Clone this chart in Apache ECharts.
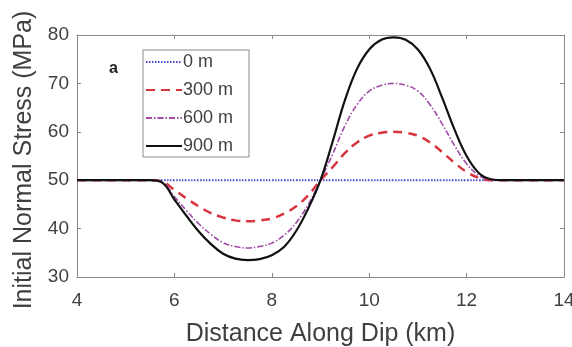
<!DOCTYPE html>
<html>
<head>
<meta charset="utf-8">
<script src="https://cdn.jsdelivr.net/npm/echarts@6/dist/echarts.min.js"></script>
<style>
  html, body { margin: 0; padding: 0; background: #fff; }
  #chart { width: 572px; height: 347px; }
</style>
</head>
<body>
<div id="chart"></div>
<script>
// distance along dip (km) and stress for each depth (MPa)
const distanceKm = [4, 5.5, 5.75, 6, 6.25, 6.5, 6.75, 7, 7.25, 7.5, 7.75, 8, 8.25, 8.5, 8.75, 9,
  9.25, 9.5, 9.75, 10, 10.25, 10.5, 10.75, 11, 11.25, 11.5, 11.75, 12, 12.25, 12.5, 12.75, 14];
const stress0 = [50, 50, 50, 50, 50, 50, 50, 50, 50, 50, 50, 50, 50, 50, 50, 50,
  50, 50, 50, 50, 50, 50, 50, 50, 50, 50, 50, 50, 50, 50, 50, 50];
const stress300 = [50, 50, 49.7, 48.0, 46.2, 44.6, 43.2, 42.3, 41.7, 41.5, 41.7, 42.1, 43.1, 44.6, 46.9, 50,
  52.7, 55.6, 57.8, 59.2, 59.8, 60, 59.8, 59.2, 57.8, 55.8, 53.6, 51.7, 50.5, 50, 50, 50];
const stress600 = [50, 50, 49.6, 46.6, 43.7, 41.0, 38.8, 37.1, 36.3, 36.0, 36.3, 37.0, 38.6, 41.2, 45.0, 50,
  55.4, 61.2, 65.6, 68.4, 69.6, 70, 69.6, 68.4, 65.6, 61.6, 57.2, 53.4, 51.0, 50.1, 50, 50];
const stress900 = [50, 50, 49.5, 46.0, 42.6, 39.4, 36.8, 34.8, 33.8, 33.5, 33.7, 34.5, 36.2, 39.5, 44.2, 50,
  58.0, 66.5, 73.0, 77.0, 79.0, 79.5, 79.0, 77.0, 73.0, 67.0, 60.5, 55.0, 51.5, 50.2, 50, 50];
const depthLabels = ['0 m', '300 m', '600 m', '900 m'];

const pairs = ys => distanceKm.map((x, i) => [x, ys[i]]);

const textColor = '#3f3f3f';
const frameColor = '#8a8a8a';
const font = 'Liberation Sans, Arial, sans-serif';

const chart = echarts.init(document.getElementById('chart'));

const styles = [
  { color: '#4646cc', width: 2, type: [1.5, 1.5] },
  { color: '#d8343f', width: 2.5, type: [9, 6] },
  { color: '#a04aa8', width: 1.6, type: [6, 2, 1.5, 2] },
  { color: '#111111', width: 2.2, type: 'solid' }
];
const values = [stress0, stress300, stress600, stress900];

const hiddenAxis = {
  axisLine: { show: true, lineStyle: { color: frameColor, width: 1 } },
  axisTick: { show: true, inside: true, length: 4, lineStyle: { color: frameColor } },
  axisLabel: { show: false },
  splitLine: { show: false }
};

chart.setOption({
  animation: false,
  backgroundColor: '#fff',
  grid: { left: 77, right: 8, top: 35, bottom: 70, outerBoundsMode: 'none' },
  legend: {
    orient: 'vertical',
    left: 143,
    top: 50,
    data: depthLabels,
    itemWidth: 36,
    itemHeight: 12,
    itemGap: 10,
    padding: [3, 16, 2, 2],
    borderColor: frameColor,
    borderWidth: 1,
    backgroundColor: '#fff',
    itemStyle: { opacity: 0 },
    textStyle: { color: textColor, fontSize: 18, fontFamily: font, padding: [0, 0, 0, -4] }
  },
  graphic: [{
    type: 'text',
    left: 109,
    top: 61,
    style: { text: 'a', fontSize: 16, fontWeight: 'bold', fill: '#222', fontFamily: font }
  }],
  xAxis: [{
    type: 'value',
    min: 4, max: 14, interval: 2,
    name: 'Distance Along Dip (km)',
    nameLocation: 'middle',
    nameGap: 45,
    nameTextStyle: { color: textColor, fontSize: 25, fontFamily: font },
    axisLine: { show: true, lineStyle: { color: frameColor, width: 1 } },
    axisTick: { show: true, inside: true, length: 4, lineStyle: { color: frameColor } },
    axisLabel: { color: textColor, fontSize: 19, fontFamily: font, margin: 14 },
    splitLine: { show: false }
  }, Object.assign({ type: 'value', position: 'top', min: 4, max: 14, interval: 2 }, hiddenAxis)],
  yAxis: [{
    type: 'value',
    min: 30, max: 80, interval: 10,
    name: 'Initial Normal Stress (MPa)',
    nameLocation: 'middle',
    nameGap: 24,
    nameTextStyle: { color: textColor, fontSize: 25, fontFamily: font, padding: [0, 8, 0, 0] },
    axisLine: { show: true, lineStyle: { color: frameColor, width: 1 } },
    axisTick: { show: true, inside: true, length: 4, lineStyle: { color: frameColor } },
    axisLabel: { color: textColor, fontSize: 19, fontFamily: font, margin: 8 },
    splitLine: { show: false }
  }, Object.assign({ type: 'value', position: 'right', min: 30, max: 80, interval: 10 }, hiddenAxis)],
  series: depthLabels.map((name, i) => ({
    name: name,
    type: 'line',
    data: pairs(values[i]),
    showSymbol: false,
    symbol: 'none',
    smooth: 0.4,
    z: 2 + i,
    itemStyle: { color: styles[i].color },
    lineStyle: { color: styles[i].color, width: styles[i].width, type: styles[i].type }
  }))
});
</script>
</body>
</html>
